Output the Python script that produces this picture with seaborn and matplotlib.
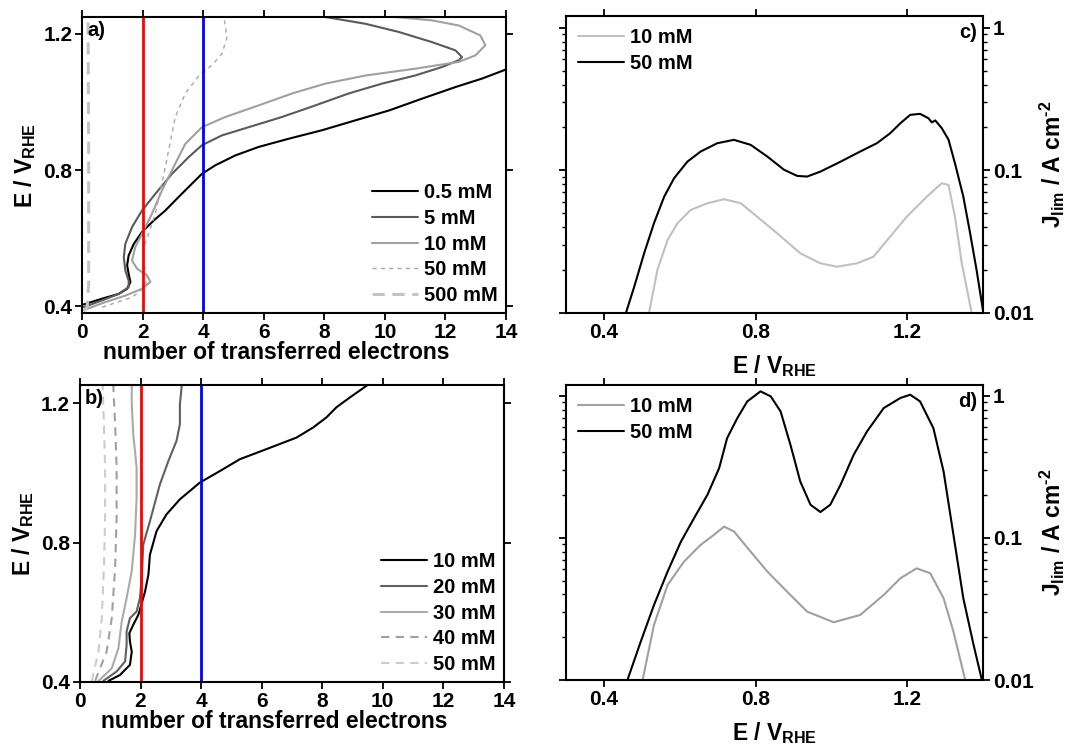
import numpy as np
import pandas as pd
import matplotlib
matplotlib.use("Agg")
import matplotlib.pyplot as plt
import seaborn as sns
from matplotlib.ticker import LogLocator, NullFormatter, FixedLocator

# ---------------- data: panel a (n vs E) ----------------
a_05_n = [0.05, 0.66, 1.21, 1.49, 1.6, 1.54, 1.49, 1.54, 1.71, 1.98, 2.37, 2.75, 3.19, 3.63, 3.96, 4.4, 5.06, 5.83, 6.82, 7.92, 9.02, 10.13, 11.23, 12.33, 13.21, 13.98, 14.64]
a_05_E = [0.405, 0.422, 0.436, 0.451, 0.471, 0.495, 0.52, 0.549, 0.583, 0.618, 0.652, 0.681, 0.721, 0.76, 0.789, 0.814, 0.843, 0.868, 0.892, 0.917, 0.946, 0.975, 1.01, 1.044, 1.069, 1.095, 1.118]

a_5_n = [0.05, 0.66, 1.21, 1.54, 1.54, 1.43, 1.38, 1.43, 1.65, 1.98, 2.42, 2.97, 3.52, 3.96, 4.62, 5.5, 6.6, 7.7, 8.8, 9.9, 11.0, 11.89, 12.44, 12.55, 12.33, 11.56, 10.46, 9.36, 8.03]
a_5_E = [0.397, 0.417, 0.436, 0.456, 0.475, 0.505, 0.544, 0.583, 0.632, 0.681, 0.73, 0.789, 0.838, 0.873, 0.902, 0.926, 0.956, 0.99, 1.025, 1.054, 1.078, 1.103, 1.123, 1.132, 1.152, 1.176, 1.206, 1.23, 1.25]

a_10_n = [0.1, 0.77, 1.43, 1.98, 2.26, 2.15, 1.82, 1.65, 1.76, 2.04, 2.31, 2.64, 3.08, 3.41, 3.96, 4.73, 5.83, 6.93, 8.03, 9.36, 11.0, 12.44, 12.99, 13.32, 13.15, 12.44, 11.56, 10.35]
a_10_E = [0.39, 0.412, 0.431, 0.451, 0.471, 0.49, 0.51, 0.534, 0.574, 0.623, 0.672, 0.74, 0.819, 0.877, 0.926, 0.956, 0.99, 1.025, 1.054, 1.078, 1.098, 1.118, 1.137, 1.167, 1.196, 1.225, 1.24, 1.25]

a_50_n = [0.66, 1.65, 2.09, 2.15, 2.04, 2.04, 2.2, 2.42, 2.64, 2.86, 3.08, 3.41, 3.91, 4.29, 4.62, 4.79, 4.73, 4.68]
a_50_E = [0.397, 0.426, 0.456, 0.485, 0.525, 0.574, 0.613, 0.672, 0.76, 0.858, 0.956, 1.025, 1.083, 1.108, 1.142, 1.191, 1.225, 1.25]

a_500_n = [0.05, 0.17, 0.22, 0.22, 0.2]
a_500_E = [0.385, 0.397, 0.466, 0.858, 1.25]

# ---------------- data: panel b (n vs E) ----------------
b_10_n = [0.94, 1.32, 1.65, 1.71, 1.65, 1.63, 1.76, 1.93, 2.04, 2.15, 2.26, 2.31, 2.53, 2.86, 3.3, 3.96, 4.62, 5.28, 6.16, 7.15, 7.7, 8.14, 8.47, 8.91, 9.47]
b_10_E = [0.403, 0.42, 0.449, 0.487, 0.516, 0.54, 0.564, 0.593, 0.626, 0.66, 0.708, 0.765, 0.833, 0.881, 0.924, 0.972, 1.005, 1.039, 1.068, 1.101, 1.13, 1.159, 1.188, 1.216, 1.25]

b_20_n = [0.77, 1.21, 1.49, 1.54, 1.54, 1.65, 1.87, 1.98, 2.04, 2.09, 2.31, 2.64, 2.92, 3.19, 3.3, 3.3, 3.36]
b_20_E = [0.403, 0.43, 0.459, 0.506, 0.545, 0.583, 0.602, 0.641, 0.698, 0.794, 0.861, 0.967, 1.034, 1.092, 1.14, 1.197, 1.25]

b_30_n = [0.61, 1.05, 1.27, 1.38, 1.54, 1.71, 1.82, 1.87, 1.87, 1.76, 1.71, 1.71]
b_30_E = [0.403, 0.439, 0.497, 0.574, 0.641, 0.718, 0.823, 0.929, 1.015, 1.111, 1.197, 1.25]

b_40_n = [0.5, 0.88, 1.05, 1.16, 1.21, 1.21, 1.16, 1.1]
b_40_E = [0.403, 0.487, 0.583, 0.727, 0.871, 1.015, 1.14, 1.25]

b_50_n = [0.39, 0.61, 0.72, 0.79, 0.83, 0.83, 0.79, 0.75]
b_50_E = [0.403, 0.487, 0.583, 0.727, 0.871, 1.015, 1.14, 1.25]

# ---------------- data: panel c (E vs J) ----------------
c_50_E = [0.45, 0.458, 0.48, 0.506, 0.532, 0.559, 0.585, 0.62, 0.655, 0.699, 0.743, 0.787, 0.831, 0.875, 0.91, 0.936, 0.971, 1.024, 1.076, 1.12, 1.155, 1.182, 1.208, 1.234, 1.256, 1.265, 1.274, 1.291, 1.309, 1.326, 1.348, 1.366, 1.383, 1.401]
c_50_J = [0.0085, 0.01, 0.0153, 0.0262, 0.0426, 0.0655, 0.088, 0.115, 0.1355, 0.155, 0.1637, 0.151, 0.125, 0.101, 0.0914, 0.0905, 0.098, 0.115, 0.1355, 0.155, 0.182, 0.214, 0.245, 0.249, 0.232, 0.217, 0.224, 0.198, 0.164, 0.112, 0.0655, 0.0362, 0.020, 0.01]

c_10_E = [0.512, 0.519, 0.541, 0.568, 0.594, 0.629, 0.673, 0.717, 0.761, 0.804, 0.857, 0.918, 0.971, 1.015, 1.068, 1.111, 1.155, 1.199, 1.252, 1.291, 1.309, 1.326, 1.344, 1.37]
c_10_J = [0.0085, 0.01, 0.020, 0.0325, 0.0426, 0.0528, 0.0588, 0.0628, 0.0588, 0.0474, 0.0362, 0.0262, 0.0223, 0.0211, 0.0223, 0.0248, 0.0343, 0.0474, 0.0655, 0.0812, 0.079, 0.0474, 0.0223, 0.01]

# ---------------- data: panel d (E vs J) ----------------
d_50_E = [0.455, 0.462, 0.497, 0.532, 0.568, 0.603, 0.638, 0.673, 0.704, 0.725, 0.752, 0.778, 0.813, 0.84, 0.866, 0.892, 0.918, 0.945, 0.971, 0.997, 1.024, 1.059, 1.094, 1.138, 1.182, 1.208, 1.234, 1.269, 1.296, 1.322, 1.348, 1.375, 1.397]
d_50_J = [0.0085, 0.01, 0.0186, 0.0337, 0.058, 0.094, 0.138, 0.201, 0.31, 0.504, 0.697, 0.912, 1.074, 0.99, 0.776, 0.452, 0.249, 0.171, 0.152, 0.171, 0.236, 0.385, 0.561, 0.819, 0.964, 1.017, 0.912, 0.592, 0.293, 0.105, 0.0376, 0.0177, 0.01]

d_10_E = [0.495, 0.502, 0.532, 0.568, 0.611, 0.655, 0.69, 0.717, 0.743, 0.787, 0.831, 0.883, 0.936, 1.006, 1.076, 1.138, 1.182, 1.225, 1.261, 1.296, 1.322, 1.353]
d_10_J = [0.0085, 0.01, 0.0244, 0.0467, 0.068, 0.0893, 0.105, 0.120, 0.111, 0.080, 0.058, 0.0419, 0.0303, 0.0255, 0.0287, 0.0397, 0.052, 0.0611, 0.0563, 0.0376, 0.0219, 0.01]

# ---------------- style ----------------
sns.set_style("ticks")
plt.rcParams["font.family"] = ["Liberation Sans", "DejaVu Sans"]
plt.rcParams["font.weight"] = "bold"
plt.rcParams["axes.labelweight"] = "bold"
plt.rcParams["text.color"] = "black"
plt.rcParams["axes.labelcolor"] = "black"
plt.rcParams["xtick.color"] = "black"
plt.rcParams["ytick.color"] = "black"
plt.rcParams["mathtext.fontset"] = "custom"
plt.rcParams["mathtext.rm"] = "Liberation Sans:bold"
plt.rcParams["mathtext.bf"] = "Liberation Sans:bold"
plt.rcParams["mathtext.it"] = "Liberation Sans:bold"
plt.rcParams["axes.linewidth"] = 1.5
plt.rcParams["xtick.major.width"] = 1.3
plt.rcParams["ytick.major.width"] = 1.3
plt.rcParams["xtick.minor.width"] = 1.0
plt.rcParams["ytick.minor.width"] = 1.0
plt.rcParams["xtick.major.size"] = 5
plt.rcParams["ytick.major.size"] = 5
plt.rcParams["ytick.minor.size"] = 3
plt.rcParams["xtick.direction"] = "out"
plt.rcParams["ytick.direction"] = "out"
plt.rcParams["axes.edgecolor"] = "black"

TFS = 15    # tick labels
LFS = 16.5  # axis labels
GFS = 14.5  # legend / tags

fig = plt.figure(figsize=(10.72, 7.45), dpi=100)
ax_a = fig.add_axes([0.0765, 0.5799, 0.3955, 0.3973])
ax_b = fig.add_axes([0.0746, 0.0846, 0.3955, 0.3987])
ax_c = fig.add_axes([0.528, 0.5799, 0.389, 0.3987])
ax_d = fig.add_axes([0.528, 0.0872, 0.389, 0.396])


def line(ax, x, y, color, label, lw=1.5, dashes=None):
    df = pd.DataFrame({"x": x, "y": y})
    sns.lineplot(data=df, x="x", y="y", ax=ax, color=color, lw=lw, sort=False,
                 estimator=None, label=label, legend=False)
    ln = ax.get_lines()[-1]
    ln.set_solid_joinstyle("round")
    if dashes is not None:
        ln.set_dashes(dashes)
    return ln


def legend(ax, h, loc, pad):
    ax.legend(handles=h, loc=loc, frameon=False, handlelength=2.3,
              labelspacing=0.33, borderaxespad=pad, handletextpad=0.3,
              prop={"weight": "bold", "size": GFS})


def style_n_axes(ax, tag):
    ax.set_xlim(0, 14)
    ax.xaxis.set_major_locator(FixedLocator([0, 2, 4, 6, 8, 10, 12, 14]))
    ax.yaxis.set_major_locator(FixedLocator([0.4, 0.8, 1.2]))
    ax.tick_params(top=True, right=True, labeltop=False, labelright=False, labelsize=TFS, pad=2)
    for t in ax.get_xticklabels() + ax.get_yticklabels():
        t.set_fontweight("bold")
    ax.set_xlabel("number of transferred electrons", fontsize=LFS, fontweight="bold", labelpad=0)
    ax.xaxis.set_label_coords(0.459, -0.095)
    ax.set_ylabel(r"E / V$_{\bf RHE}$", fontsize=LFS, fontweight="bold", labelpad=4)
    ax.axvline(2, color="#ff0000", lw=2)
    ax.axvline(4, color="#0000ff", lw=2)
    ax.text(0.012, 0.985, tag, transform=ax.transAxes, fontsize=GFS, fontweight="bold",
            va="top", ha="left")


# panel a
h = []
h.append(line(ax_a, a_05_n, a_05_E, "black", "0.5 mM"))
h.append(line(ax_a, a_5_n, a_5_E, "#5a5a5a", "5 mM"))
h.append(line(ax_a, a_10_n, a_10_E, "#a0a0a0", "10 mM"))
h.append(line(ax_a, a_50_n, a_50_E, "#a8a8a8", "50 mM", lw=1.0, dashes=(3, 3)))
h.append(line(ax_a, a_500_n, a_500_E, "#c4c4c4", "500 mM", lw=2.2, dashes=(4, 2.5)))
ax_a.set_ylim(0.38, 1.25)
style_n_axes(ax_a, "a)")
legend(ax_a, h, "lower right", 0.0)

# panel b
h = []
h.append(line(ax_b, b_10_n, b_10_E, "black", "10 mM"))
h.append(line(ax_b, b_20_n, b_20_E, "#606060", "20 mM"))
h.append(line(ax_b, b_30_n, b_30_E, "#aaaaaa", "30 mM"))
h.append(line(ax_b, b_40_n, b_40_E, "#a0a0a0", "40 mM", lw=1.5, dashes=(4, 3)))
h.append(line(ax_b, b_50_n, b_50_E, "#cccccc", "50 mM", lw=1.5, dashes=(4, 3)))
ax_b.set_ylim(0.4, 1.252)
style_n_axes(ax_b, "b)")
legend(ax_b, h, "lower right", 0.0)


def style_j_axes(ax, tag, ytop):
    ax.set_yscale("log")
    ax.set_xlim(0.3, 1.4)
    ax.set_ylim(0.01, ytop)
    ax.xaxis.set_major_locator(FixedLocator([0.4, 0.8, 1.2]))
    ax.yaxis.set_major_locator(FixedLocator([0.01, 0.1, 1]))
    ax.yaxis.set_minor_locator(LogLocator(base=10, subs=np.arange(2, 10) * 1.0))
    ax.yaxis.set_minor_formatter(NullFormatter())
    ax.set_yticklabels(["0.01", "0.1", "1"])
    ax.tick_params(which="both", top=True, right=True, left=True, labeltop=False,
                   labelright=True, labelleft=False, labelsize=TFS, pad=2)
    for t in ax.get_xticklabels() + ax.get_yticklabels():
        t.set_fontweight("bold")
    ax.yaxis.set_label_position("right")
    ax.set_xlabel(r"E / V$_{\bf RHE}$", fontsize=LFS, fontweight="bold", labelpad=8)
    ax.set_ylabel(r"J$_{\bf lim}$ / A cm$^{\text{-2}}$", fontsize=LFS, fontweight="bold", labelpad=3)
    ax.text(0.985, 0.975, tag, transform=ax.transAxes, fontsize=GFS, fontweight="bold",
            va="top", ha="right")


h = []
h.append(line(ax_c, c_10_E, c_10_J, "#c0c0c0", "10 mM"))
h.append(line(ax_c, c_50_E, c_50_J, "black", "50 mM"))
style_j_axes(ax_c, "c)", 1.21)
legend(ax_c, h, "upper left", 0.2)

h = []
h.append(line(ax_d, d_10_E, d_10_J, "#a0a0a0", "10 mM"))
h.append(line(ax_d, d_50_E, d_50_J, "black", "50 mM"))
style_j_axes(ax_d, "d)", 1.19)
legend(ax_d, h, "upper left", 0.2)

fig.savefig("out.png", dpi=100)
